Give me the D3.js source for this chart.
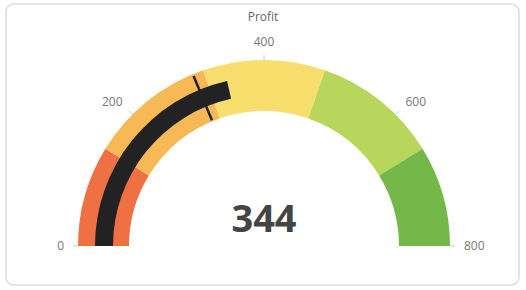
<!DOCTYPE html>
<html><head><meta charset="utf-8">
<script src="https://cdn.jsdelivr.net/npm/d3@7"></script>
<style>
html,body{margin:0;padding:0;background:#fff;}
svg{display:block;font-family:"Open Sans",sans-serif;}
</style></head>
<body><svg id="chart" width="526" height="290"></svg>
<script>
const title = "Profit";
const bandStops = [0, 140, 315, 485, 660, 800];
const bandColors = ["#EF7043", "#F7B955", "#F8DE6D", "#B7D65B", "#74B849"];
const tickValues = [0, 200, 400, 600, 800];
const value = 344;
const target = 300;
const domain = [0, 800];

const svg = d3.select("#chart");
const cx = 264, cy = 246, rOut = 186, rIn = 135;
const barIn = 151, barOut = 169;

svg.append("rect").attr("x", 6).attr("y", 4).attr("width", 513).attr("height", 281)
  .attr("rx", 8).attr("fill", "#fff").attr("stroke", "#dcdcdc").attr("stroke-width", 1.5);

const ang = d3.scaleLinear().domain(domain).range([-Math.PI / 2, Math.PI / 2]);
const g = svg.append("g").attr("transform", `translate(${cx},${cy})`);

const arc = d3.arc();
const bands = d3.range(bandColors.length).map(i => ({from: bandStops[i], to: bandStops[i + 1], color: bandColors[i]}));
g.selectAll("path.band").data(bands).join("path").attr("class", "band")
  .attr("d", d => arc({innerRadius: rIn, outerRadius: rOut, startAngle: ang(d.from), endAngle: ang(d.to)}))
  .attr("fill", d => d.color);

// value bar
g.append("path")
  .attr("d", arc({innerRadius: barIn, outerRadius: barOut, startAngle: ang(domain[0]), endAngle: ang(value)}))
  .attr("fill", "#222");

// target marker
const ta = ang(target);
g.append("line")
  .attr("x1", Math.sin(ta) * (rIn + 1)).attr("y1", -Math.cos(ta) * (rIn + 1))
  .attr("x2", Math.sin(ta) * (rOut - 2)).attr("y2", -Math.cos(ta) * (rOut - 2))
  .attr("stroke", "#222").attr("stroke-width", 2.5);

// ticks
g.selectAll("line.tick").data(tickValues).join("line").attr("class", "tick")
  .attr("x1", d => Math.sin(ang(d)) * rOut).attr("y1", d => -Math.cos(ang(d)) * rOut)
  .attr("x2", d => Math.sin(ang(d)) * (rOut + 5)).attr("y2", d => -Math.cos(ang(d)) * (rOut + 5))
  .attr("stroke", "#ccc").attr("stroke-width", 1);

const rl = 200;
g.selectAll("text.tl").data(tickValues).join("text").attr("class", "tl")
  .attr("x", d => Math.sin(ang(d)) * rl)
  .attr("y", d => -Math.cos(ang(d)) * rl - 4 * Math.cos(ang(d)))
  .attr("dy", "0.35em")
  .attr("text-anchor", d => { const s = Math.sin(ang(d)); return Math.abs(s) < 0.01 ? "middle" : (s < 0 ? "end" : "start"); })
  .attr("font-size", 12).attr("fill", "#777")
  .text(d => d);

svg.append("text").attr("x", 263).attr("y", 21).attr("text-anchor", "middle")
  .attr("font-size", 12).attr("fill", "#666").text(title);

g.append("text").attr("x", 0).attr("y", -14).attr("text-anchor", "middle")
  .attr("font-size", 38).attr("font-weight", "bold").attr("fill", "#444").text(value);
</script></body></html>
